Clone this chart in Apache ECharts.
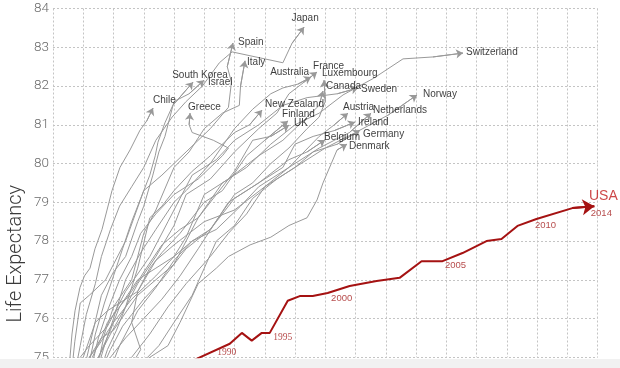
<!DOCTYPE html>
<html><head><meta charset="utf-8">
<script src="https://cdn.jsdelivr.net/npm/echarts@6/dist/echarts.min.js"></script>
<style>html,body{margin:0;padding:0;background:#fff}#c{width:620px;height:368px}</style>
</head><body><div id="c"></div>
<script>
// Axis setup (x: health spending per capita, hidden; y: life expectancy)
const xMin = 0, xMax = 9000, xStep = 500;
const yMin = 75, yMax = 84, yStep = 1;
const yTickLabels = ['75','76','77','78','79','80','81','82','83','84'];

// Country trajectories [spending, life expectancy]
const chile = [[260,74.5],[281,75.0],[314,75.6],[364,76.2],[446,76.8],[520,77.1],[612,77.3],[694,77.8],[810,78.3],[893,78.8],[975,79.3],[1107,79.9],[1273,80.35],[1438,80.86],[1550,81.1],[1653,81.43]];
const southKorea = [[550,74.5],[700,75.6],[850,76.4],[1000,77.1],[1150,77.8],[1300,78.5],[1450,79.1],[1600,79.7],[1690,80.2],[1735,80.55],[1850,81.05],[1980,81.5],[2314,82.1]];
const israel = [[500,74.6],[650,75.6],[800,76.6],[1000,77.2],[1200,77.6],[1400,78.5],[1500,78.9],[1650,79.7],[1750,80.3],[1850,80.7],[2000,81.6],[2250,81.8],[2496,82.15]];
const japan = [[350,74.5],[450,75.3],[550,76.1],[700,76.9],[800,77.6],[950,78.3],[1100,78.9],[1300,79.4],[1500,79.9],[1700,80.6],[1970,81.2],[2200,81.6],[2470,82.0],[2750,82.6],[2960,82.88],[3800,82.6],[3950,83.1],[4150,83.52]];
const spain = [[300,74.5],[360,75.4],[450,76.4],[600,76.6],[870,77.0],[1000,77.4],[1200,78.0],[1500,79.3],[1800,79.7],[2200,80.3],[2600,80.9],[2900,81.45],[2950,82.1],[2880,82.5],[2975,83.11]];
const italy = [[700,74.5],[850,75.6],[1000,76.3],[1300,77.0],[1500,78.2],[1700,78.8],[2000,79.9],[2250,80.3],[2500,80.9],[2800,81.3],[3080,81.5],[3100,82.0],[3174,82.65]];
const greece = [[600,74.5],[750,75.5],[900,76.2],[1100,77.0],[1300,77.6],[1450,78.2],[1700,78.7],[2000,79.2],[2400,79.6],[2800,80.2],[2900,80.4],[2650,80.6],[2300,80.8],[2250,81.0],[2265,81.3]];
const australia = [[700,74.5],[850,75.3],[1000,76.0],[1200,77.0],[1450,77.7],[1700,78.3],[2000,79.0],[2200,79.3],[2600,80.0],[3000,80.9],[3300,81.4],[3600,81.8],[3800,81.95],[4050,82.05],[4265,82.23]];
const france = [[600,74.5],[750,75.0],[950,75.6],[1200,76.3],[1400,76.9],[1700,77.6],[2000,78.4],[2200,79.2],[2600,79.6],[3000,80.3],[3400,80.9],[3700,81.3],[3900,81.8],[4150,82.1],[4364,82.36]];
const luxembourg = [[900,74.5],[1100,75.3],[1400,76.2],[1700,76.8],[2000,77.5],[2300,78.0],[2600,78.3],[3000,79.2],[3300,79.5],[3600,80.0],[3900,80.4],[4200,80.9],[4400,81.2],[4500,81.6],[4480,82.15]];
const canada = [[450,74.5],[600,75.0],[750,75.3],[1000,75.9],[1300,76.5],[1700,77.1],[2000,77.6],[2200,78.1],[2500,79.2],[2900,79.6],[3400,80.2],[3800,80.6],[4200,81.2],[4400,81.5],[4463,81.87]];
const sweden = [[250,74.5],[400,74.9],[600,75.3],[900,75.8],[1200,76.7],[1600,77.6],[1900,78.5],[2300,79.7],[2700,80.1],[3000,80.6],[3400,81.0],[3800,81.5],[4200,81.7],[4700,81.8],[5042,81.95]];
const switzerland = [[400,74.5],[600,75.0],[800,75.5],[1000,75.7],[1400,76.6],[2000,77.4],[2400,78.6],[2800,79.5],[3200,79.9],[3600,80.5],[4000,81.0],[4400,81.3],[4794,81.77],[5300,82.2],[5785,82.7],[6281,82.75],[6777,82.85]];
const norway = [[350,74.5],[500,75.0],[700,75.9],[900,76.2],[1200,76.5],[1400,76.7],[1700,77.5],[2000,77.9],[2500,78.5],[3000,78.8],[3500,79.4],[4000,79.9],[4500,80.4],[5000,80.8],[5540,81.25],[6017,81.77]];
const austria = [[1000,74.5],[1300,75.0],[1600,75.6],[1900,76.3],[2200,76.9],[2600,77.6],[2900,78.2],[3200,78.7],[3500,79.4],[3900,79.9],[4400,80.7],[4650,81.0],[4876,81.3]];
const netherlands = [[500,74.5],[650,75.0],[800,75.5],[900,75.9],[1100,76.3],[1400,77.0],[1700,77.3],[2000,77.6],[2300,78.0],[2700,78.3],[3100,78.9],[3400,79.4],[3900,79.9],[4400,80.4],[4900,80.8],[5257,81.3]];
const ireland = [[800,74.5],[950,75.0],[1200,75.5],[1500,76.0],[1800,76.5],[2100,77.1],[2400,77.8],[2900,79.0],[3300,79.4],[3800,79.9],[4000,80.5],[4300,80.7],[4650,80.85],[4992,81.07]];
const germany = [[1200,74.5],[1500,74.9],[1750,75.3],[2000,75.9],[2300,76.6],[2500,77.3],[2700,78.0],[3000,78.4],[3300,79.1],[3700,79.6],[4000,79.9],[4300,80.3],[4700,80.5],[5075,80.86]];
const belgium = [[750,74.5],[950,75.2],[1150,75.8],[1300,76.1],[1500,76.5],[1800,77.0],[2200,77.8],[2600,78.3],[3000,79.1],[3400,79.5],[3900,80.1],[4200,80.3],[4496,80.61]];
const denmark = [[1000,74.4],[1300,74.8],[1500,74.9],[1700,75.1],[1900,75.3],[2100,75.9],[2400,76.9],[2700,77.3],[2900,77.6],[3257,77.9],[3600,78.1],[3900,78.4],[4199,78.6],[4364,79.06],[4463,79.5],[4600,80.0],[4695,80.35],[4860,80.5]];
const newZealand = [[750,74.5],[900,75.2],[1050,75.7],[1200,76.3],[1400,77.3],[1600,78.6],[1800,78.9],[2000,79.3],[2300,79.8],[2600,80.2],[3000,80.8],[3250,81.0],[3455,81.38]];
const finland = [[900,74.0],[1100,74.4],[1300,74.8],[1450,75.2],[1300,75.9],[1400,76.7],[1600,77.3],[1800,77.7],[2100,78.2],[2500,79.0],[2800,79.3],[3200,80.2],[3500,80.6],[3885,81.1]];
const uk = [[600,74.5],[750,75.0],[950,75.7],[1100,76.3],[1300,76.7],[1500,77.2],[1800,77.9],[2100,78.3],[2400,78.6],[2700,79.2],[3000,79.8],[3300,80.6],[3600,80.7],[3901,80.99]];

const countryNames = ['Chile','South Korea','Israel','Japan','Spain','Italy','Greece','Australia','France','Luxembourg','Canada','Sweden','Switzerland','Norway','Austria','Netherlands','Ireland','Germany','Belgium','Denmark','New Zealand','Finland','UK'];
const countryPaths = [chile,southKorea,israel,japan,spain,italy,greece,australia,france,luxembourg,canada,sweden,switzerland,norway,austria,netherlands,ireland,germany,belgium,denmark,newZealand,finland,uk];

// USA trajectory
const usa = [[2100,74.7],[2345,74.94],[2922,75.35],[3121,75.63],[3285,75.43],[3451,75.63],[3583,75.63],[3880,76.46],[4078,76.58],[4293,76.58],[4540,76.66],[4903,76.84],[5349,76.97],[5729,77.05],[6092,77.48],[6439,77.48],[6769,77.69],[7165,78.0],[7413,78.05],[7677,78.39],[7991,78.57],[8585,78.85],[8948,78.90]];
const usaYearLabels = ['1990','1995','2000','2005','2010','2014'];
const usaYearIdx = [2,6,10,15,20,22];

// label placement (style)
const labelStyle = {
  'Chile':['left',[0,-8]], 'South Korea':['center',[7,-7]], 'Israel':['left',[4,2]], 'Japan':['center',[1,-9]],
  'Spain':['left',[5,-1]], 'Italy':['left',[2,1]], 'Greece':['left',[-2,-6]], 'Australia':['right',[-2,-5]],
  'France':['left',[-4,-6]], 'Luxembourg':['left',[-2,-7]], 'Canada':['left',[3,-5]], 'Sweden':['left',[3,1]],
  'Switzerland':['left',[3,-1]], 'Norway':['left',[6,-1]], 'Austria':['left',[-5,-6]], 'Netherlands':['left',[2,-3]],
  'Ireland':['left',[3,0]], 'Germany':['left',[3,4]], 'Belgium':['left',[-1,-3]], 'Denmark':['left',[2,2]],
  'New Zealand':['left',[3,-6]], 'Finland':['left',[-6,-7]], 'UK':['left',[5,-2]]
};
const yearStyle = {'1990':[['Liberation Serif','serif'],[-3,9]], '1995':[['Liberation Serif','serif'],[13,5]], '2000':[['Liberation Sans'],[14,5]], '2005':[['Liberation Sans'],[13,4]], '2010':[['Liberation Sans'],[9,6]], '2014':[['Liberation Sans'],[7,7]]};

const gray = '#999999', red = '#a51212';
const series = [];
countryPaths.forEach((p, i) => {
  series.push({type:'line', name: countryNames[i], data: p, showSymbol:false, symbol:'none', silent:true,
    lineStyle:{color:gray, width:1}, clip:true, z:2, animation:false});
});
series.push({type:'lines', coordinateSystem:'cartesian2d', silent:true, z:3, animation:false,
  data: countryPaths.map(p => ({coords:[p[p.length-2], p[p.length-1]]})),
  symbol:['none','arrow'], symbolSize:7, lineStyle:{color:gray, width:1, opacity:1}});
series.push({type:'scatter', silent:true, z:6, animation:false, symbol:'circle', symbolSize:1, itemStyle:{color:'rgba(0,0,0,0)'},
  data: countryPaths.map((p, i) => {
    const st = labelStyle[countryNames[i]];
    return {value: p[p.length-1], name: countryNames[i], label:{align: st[0], offset: st[1]}};
  }),
  label:{show:true, position:'inside', formatter:'{b}', color:'#0a0a0a', fontSize:10, fontFamily:'Liberation Sans, Arial, sans-serif', verticalAlign:'middle'}});
series.push({type:'line', name:'USA', data: usa, showSymbol:false, symbol:'none', silent:true, clip:true, z:8,
  lineStyle:{color:red, width:2}, animation:false});
series.push({type:'lines', coordinateSystem:'cartesian2d', silent:true, z:9, animation:false,
  data:[{coords:[usa[usa.length-2], usa[usa.length-1]]}], symbol:['none','arrow'], symbolSize:12,
  lineStyle:{color:red, width:2, opacity:1}});
series.push({type:'scatter', silent:true, z:10, animation:false, symbol:'circle', symbolSize:1, itemStyle:{color:'rgba(0,0,0,0)'},
  data: usaYearLabels.map((y, k) => ({value: usa[usaYearIdx[k]], name: y,
     label:{offset: yearStyle[y][1], fontFamily: yearStyle[y][0].join(',')}})).concat([
     {value: usa[usa.length-1], name:'USA', label:{offset:[9,-10], fontSize:14, color:'#c0191a', fontFamily:'Liberation Sans, Arial'}}]),
  label:{show:true, position:'inside', formatter:'{b}', color:'#a52020', fontSize:9.5, align:'center', verticalAlign:'middle'}});

const chart = echarts.init(document.getElementById('c'), null, {renderer:'canvas'});
chart.setOption({
  backgroundColor:'#fff',
  animation:false,
  grid:{left:53, right:22.5, top:8.5, bottom:10.7, containLabel:false},
  xAxis:{type:'value', min:xMin, max:xMax, interval:xStep,
    axisLine:{show:false}, axisTick:{show:false}, axisLabel:{show:false},
    splitLine:{show:true, lineStyle:{color:'#c4c4c4', type:[2,2], width:1}}},
  yAxis:{type:'value', min:yMin, max:yMax, interval:yStep,
    axisLine:{show:false}, axisTick:{show:false},
    axisLabel:{color:'#6a6a6a', fontSize:13.5, fontFamily:'Roboto, Liberation Sans, sans-serif', fontWeight:300, margin:4,
      formatter: v => yTickLabels[Math.round(v - yMin)]},
    splitLine:{show:true, lineStyle:{color:'#c4c4c4', type:[2,2], width:1}}},
  graphic:[
    {type:'text', left:6, top:185, rotation:Math.PI/2, silent:true,
      style:{text:'Life Expectancy', fill:'#3a3a3a', fontSize:20, fontWeight:300, fontFamily:'Roboto, Liberation Sans, sans-serif'}},
    {type:'rect', shape:{x:0, y:359, width:620, height:9}, style:{fill:'#f1f1f1'}, z:100, silent:true}
  ],
  series: series
});
</script></body></html>
